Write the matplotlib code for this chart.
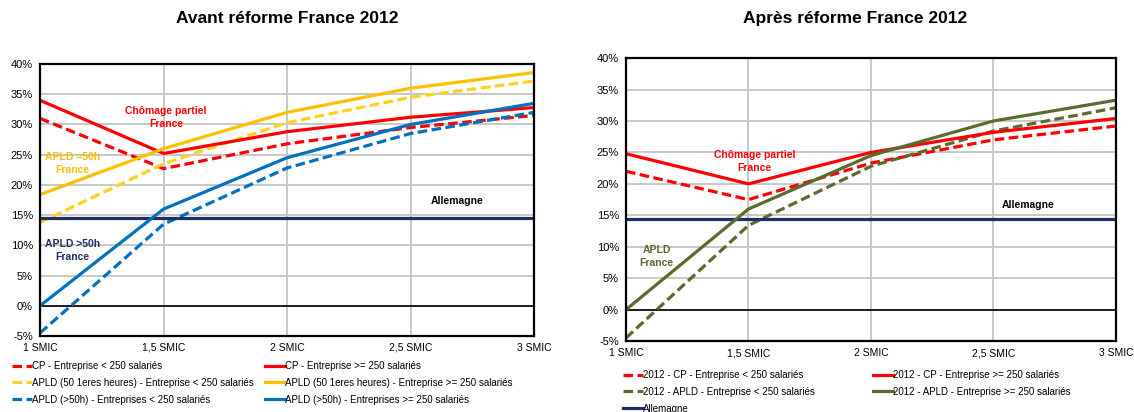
import matplotlib.pyplot as plt
from matplotlib.ticker import FuncFormatter

plt.rcParams['font.family'] = ['Liberation Sans', 'DejaVu Sans']

# categories
smic = ['1 SMIC', '1,5 SMIC', '2 SMIC', '2,5 SMIC', '3 SMIC']
yticks = [-5, 0, 5, 10, 15, 20, 25, 30, 35, 40]

# Avant reforme (%)
cp_petite = [31.0, 22.7, 26.8, 29.5, 31.5]
cp_grande = [34.0, 25.2, 28.8, 31.2, 32.8]
apld50_petite = [13.8, 23.5, 30.3, 34.5, 37.2]
apld50_grande = [18.4, 26.0, 32.0, 36.0, 38.6]
apld_plus_petite = [-4.5, 13.5, 22.8, 28.5, 32.0]
apld_plus_grande = [0.0, 16.0, 24.5, 30.0, 33.5]
allemagne_avant = [14.5] * 5

# Apres reforme (%)
cp2012_petite = [22.0, 17.5, 23.3, 27.0, 29.2]
cp2012_grande = [24.8, 20.0, 25.0, 28.2, 30.4]
apld2012_petite = [-4.5, 13.4, 22.8, 28.4, 32.1]
apld2012_grande = [0.0, 16.0, 24.5, 30.0, 33.3]
allemagne_apres = [14.4] * 5

RED = '#FF0000'
YEL = '#FFC000'
YEL_D = '#FFD21F'
BLUE = '#0070C0'
NAVY = '#1F2F66'
GREEN = '#5A6B2E'

LW = 2.3
DASH = (3.0, 1.4)
ANN = 7.5

fig = plt.figure(figsize=(11.34, 4.12), dpi=100)
ax1 = fig.add_axes([0.0353, 0.1845, 0.4356, 0.660])
ax2 = fig.add_axes([0.552, 0.172, 0.432, 0.687])

x = list(range(len(smic)))


def style(ax):
    ax.set_xlim(0, 4)
    ax.set_ylim(-5, 40)
    ax.set_xticks(x)
    ax.set_xticklabels(smic, fontsize=7.5)
    ax.set_yticks(yticks)
    ax.yaxis.set_major_formatter(FuncFormatter(lambda v, p: f'{v:.0f}%'))
    ax.tick_params(axis='y', labelsize=8, length=0, pad=5)
    ax.tick_params(axis='x', length=0, pad=5)
    ax.grid(True, color='#C8C8C8', linewidth=1.4, zorder=0)
    ax.axhline(0, color='black', linewidth=1.2, zorder=1)
    for s in ax.spines.values():
        s.set_linewidth(1.6)
        s.set_color('black')
    ax.set_axisbelow(True)


# --- left chart
style(ax1)
ax1.plot(x, cp_petite, color=RED, lw=LW, dashes=DASH, label='CP - Entreprise < 250 salariés')
ax1.plot(x, apld50_petite, color=YEL_D, lw=LW, dashes=DASH,
         label='APLD (50 1eres heures) - Entreprise < 250 salariés')
ax1.plot(x, apld_plus_petite, color=BLUE, lw=LW, dashes=DASH,
         label='APLD (>50h) - Entreprises < 250 salariés')
ax1.plot(x, allemagne_avant, color=NAVY, lw=LW, label='Allemagne')
ax1.plot(x, cp_grande, color=RED, lw=LW, label='CP - Entreprise >= 250 salariés')
ax1.plot(x, apld50_grande, color=YEL, lw=LW,
         label='APLD (50 1eres heures) - Entreprise >= 250 salariés')
ax1.plot(x, apld_plus_grande, color=BLUE, lw=LW,
         label='APLD (>50h) - Entreprises >= 250 salariés')

ax1.text(1.02, 31.1, 'Chômage partiel\nFrance', color=RED, fontsize=ANN, fontweight='bold',
         ha='center', va='center', linespacing=1.35)
ax1.text(0.26, 23.5, 'APLD =50h\nFrance', color=YEL, fontsize=ANN, fontweight='bold',
         ha='center', va='center', linespacing=1.35)
ax1.text(0.26, 9.1, 'APLD >50h\nFrance', color=NAVY, fontsize=ANN, fontweight='bold',
         ha='center', va='center', linespacing=1.35)
ax1.text(3.38, 17.4, 'Allemagne', color='black', fontsize=ANN, fontweight='bold',
         ha='center', va='center')

fig.text(0.253, 0.955, 'Avant réforme France 2012', fontsize=12.5, fontweight='bold',
         ha='center', va='center')

ax1.legend(ncol=2, loc='upper left', bbox_to_anchor=(-0.065, -0.078), frameon=False,
           fontsize=7, handlelength=2.05, handletextpad=0.0, columnspacing=1.15,
           labelspacing=0.7, borderaxespad=0)

# --- right chart
style(ax2)
ax2.plot(x, cp2012_petite, color=RED, lw=LW, dashes=DASH, label='2012 - CP - Entreprise < 250 salariés')
ax2.plot(x, apld2012_petite, color=GREEN, lw=LW, dashes=DASH,
         label='2012 - APLD - Entreprise < 250 salariés')
ax2.plot(x, allemagne_apres, color=NAVY, lw=LW, label='Allemagne')
ax2.plot(x, cp2012_grande, color=RED, lw=LW, label='2012 - CP - Entreprise >= 250 salariés')
ax2.plot(x, apld2012_grande, color=GREEN, lw=LW,
         label='2012 - APLD - Entreprise >= 250 salariés')

ax2.text(1.05, 23.5, 'Chômage partiel\nFrance', color=RED, fontsize=ANN, fontweight='bold',
         ha='center', va='center', linespacing=1.35)
ax2.text(0.25, 8.5, 'APLD\nFrance', color=GREEN, fontsize=ANN, fontweight='bold',
         ha='center', va='center', linespacing=1.35)
ax2.text(3.28, 16.6, 'Allemagne', color='black', fontsize=ANN, fontweight='bold',
         ha='center', va='center')

fig.text(0.754, 0.955, 'Après réforme France 2012', fontsize=12.5, fontweight='bold',
         ha='center', va='center')

ax2.legend(ncol=2, loc='upper left', bbox_to_anchor=(-0.014, -0.088), frameon=False,
           fontsize=7, handlelength=2.05, handletextpad=0.0, columnspacing=6.0,
           labelspacing=0.7, borderaxespad=0)

fig.savefig('out.png', dpi=100)
